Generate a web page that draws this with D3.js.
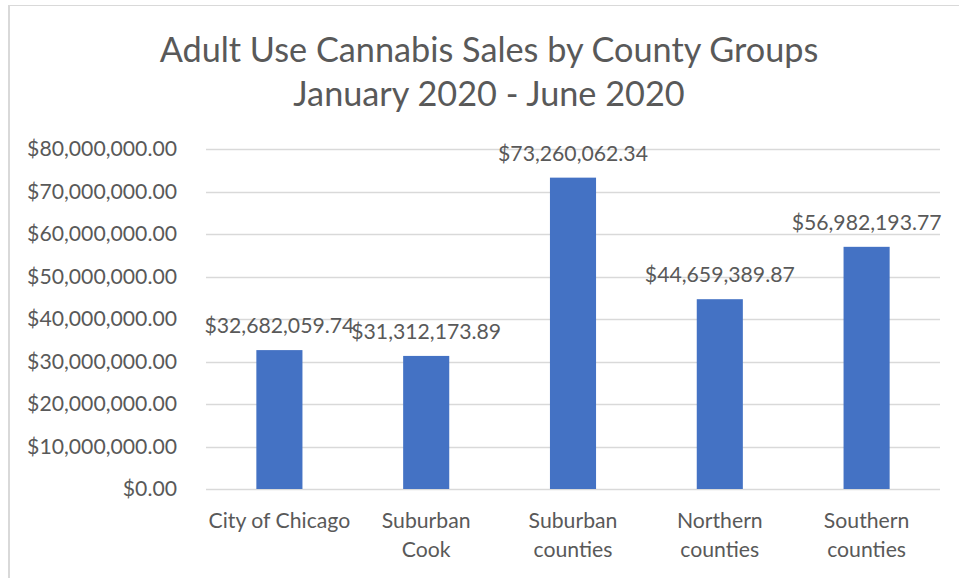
<!DOCTYPE html>
<html>
<head>
<meta charset="utf-8">
<script src="https://cdn.jsdelivr.net/npm/d3@7/dist/d3.min.js"></script>
<style>
  html, body { margin: 0; padding: 0; background: #fff; }
  svg { display: block; }
  text { font-family: Lato, "Open Sans", sans-serif; fill: #595959; }
</style>
</head>
<body>
<svg id="chart" width="959" height="578"></svg>
<script>
const categories = [["City of Chicago"], ["Suburban", "Cook"], ["Suburban", "counties"], ["Northern", "counties"], ["Southern", "counties"]];
const sales = [32682059.74, 31312173.89, 73260062.34, 44659389.87, 56982193.77];
const yTicks = [0, 10000000, 20000000, 30000000, 40000000, 50000000, 60000000, 70000000, 80000000];
const titleLines = ["Adult Use Cannabis Sales by County Groups", "January 2020 - June 2020"];

const W = 959, H = 578;
const margin = { left: 206, right: 19, top: 149, bottom: 89 };
const svg = d3.select("#chart");

// chart border (left and top)
svg.append("line").attr("x1", 9).attr("x2", 9).attr("y1", 5).attr("y2", H).attr("stroke", "#d9d9d9").attr("stroke-width", 2);
svg.append("line").attr("x1", 8).attr("x2", W).attr("y1", 5.5).attr("y2", 5.5).attr("stroke", "#d9d9d9").attr("stroke-width", 1);

const fmt = d3.format("$,.2f");

// helper to fit font size so a string reaches a measured width
function fitSize(str, target, base) {
  const t = svg.append("text").style("font-size", base + "px").text(str);
  const w = t.node().getComputedTextLength();
  t.remove();
  return base * target / w;
}
const tickSize = fitSize("$80,000,000.00", 150, 20);
const titleSize = fitSize(titleLines[0], 659, 30);

const x = d3.scaleBand()
  .domain(d3.range(categories.length))
  .range([margin.left, W - margin.right])
  .paddingInner(0.686).paddingOuter(0.343);

const y = d3.scaleLinear().domain([0, 80000000]).range([H - margin.bottom, margin.top]);

// gridlines
svg.append("g").selectAll("line").data(yTicks).join("line")
  .attr("x1", margin.left).attr("x2", W - margin.right)
  .attr("y1", d => Math.round(y(d)) + 0.5).attr("y2", d => Math.round(y(d)) + 0.5)
  .attr("stroke", "#d9d9d9").attr("stroke-width", 1.3);

// y axis labels
const yAxis = d3.axisLeft(y).tickValues(yTicks).tickFormat(fmt).tickSize(0).tickPadding(29);
const gy = svg.append("g").attr("transform", `translate(${margin.left},0)`).call(yAxis);
gy.select(".domain").remove();
gy.selectAll("text").style("font-size", tickSize + "px").style("font-family", "Lato, 'Open Sans', sans-serif").attr("fill", "#595959");

// bars
svg.append("g").selectAll("rect").data(sales).join("rect")
  .attr("x", (d, i) => x(i)).attr("width", x.bandwidth())
  .attr("y", d => y(d)).attr("height", d => y(0) - y(d))
  .attr("fill", "#4472C4");

// data labels
svg.append("g").selectAll("text").data(sales).join("text")
  .attr("x", (d, i) => x(i) + x.bandwidth() / 2)
  .attr("y", d => y(d) - 17)
  .attr("text-anchor", "middle")
  .style("font-size", tickSize + "px")
  .text(d => fmt(d));

// category labels
const xAxis = d3.axisBottom(x).tickSize(0).tickFormat("");
const gx = svg.append("g").attr("transform", `translate(0,${y(0)})`).call(xAxis);
gx.select(".domain").remove();
gx.selectAll(".tick").each(function(d) {
  const t = d3.select(this).append("text")
    .attr("text-anchor", "middle")
    .style("font-size", tickSize + "px")
    .attr("fill", "#595959");
  categories[d].forEach((line, k) => {
    t.append("tspan").attr("x", 0).attr("y", 39 + k * 29).text(line);
  });
});

// title
const title = svg.append("text").attr("text-anchor", "middle").style("font-size", titleSize + "px");
titleLines.forEach((line, k) => {
  title.append("tspan").attr("x", 489).attr("y", 62 + k * 44).text(line);
});
</script>
</body>
</html>
